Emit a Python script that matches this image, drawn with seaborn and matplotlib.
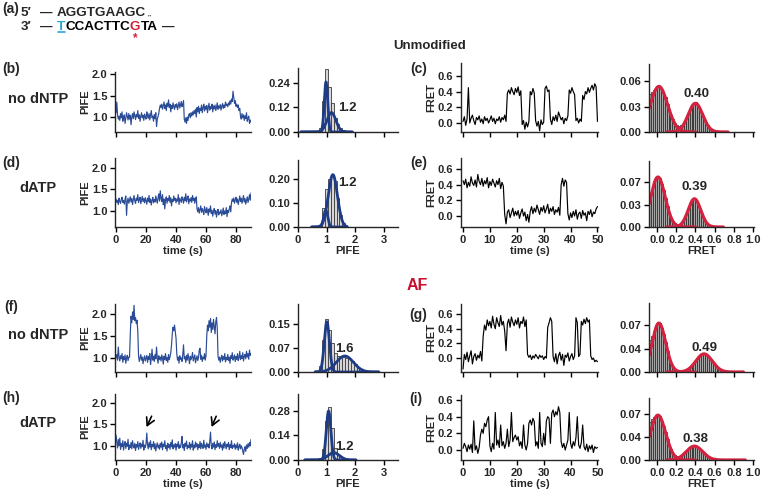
import numpy as np
import pandas as pd
import matplotlib
matplotlib.use("Agg")
import matplotlib.pyplot as plt
from matplotlib.lines import Line2D
import seaborn as sns

W, H = 763, 499

# frame time of the traces (s)
PIFE_DT = 0.5
FRET_DT = 0.5

# PIFE time traces (Cy3 intensity), one value per frame
pife_b = [1.10, 1.35, 1.05, 0.95, 1.02, 0.92, 1.08, 0.98, 1.12, 0.90, 1.00, 1.05, 0.85, 0.97, 1.10, 1.02, 0.93, 1.08, 0.95, 1.04,
          0.82, 1.00, 1.08, 0.96, 1.12, 1.03, 0.94, 1.06, 1.00, 1.15, 0.97, 1.05, 0.90, 1.02, 1.10, 0.98, 1.04, 0.92, 1.07, 1.00,
          0.95, 1.12, 1.03, 0.97, 1.08, 0.93, 1.05, 1.15, 0.98, 1.02, 0.90, 1.06, 0.96, 1.10, 0.78, 0.95, 1.02, 1.08, 1.20, 1.28,
          1.22, 1.30, 1.18, 1.26, 1.35, 1.20, 1.28, 1.15, 1.32, 1.25, 1.40, 1.22, 1.30, 1.12, 1.27, 1.20, 1.33, 1.24, 1.18, 1.29,
          1.23, 1.31, 1.17, 1.26, 1.35, 1.21, 1.28, 1.36, 1.24, 1.30, 1.38, 0.95, 0.88, 0.98, 0.85, 1.00, 0.92, 1.05, 1.08, 0.98,
          1.10, 1.02, 1.12, 1.05, 1.15, 1.08, 1.18, 1.00, 1.22, 1.12, 1.25, 1.08, 1.20, 1.15, 1.28, 1.10, 1.22, 1.30, 1.14, 1.25,
          1.18, 1.27, 1.10, 1.22, 1.32, 1.16, 1.24, 1.20, 1.30, 1.12, 1.26, 1.19, 1.28, 1.15, 1.23, 1.33, 1.18, 1.26, 1.21, 1.29,
          1.16, 1.25, 1.31, 1.20, 1.28, 1.22, 1.35, 1.27, 1.30, 1.24, 1.33, 1.28, 1.38, 1.30, 1.42, 1.36, 1.60, 1.45, 1.32, 1.38,
          1.25, 1.30, 1.22, 1.28, 1.15, 1.20, 1.02, 0.95, 1.08, 0.98, 1.05, 0.92, 1.03, 0.96, 1.10, 0.90, 0.97, 1.02, 0.85, 0.93,
          0.88]
pife_d = [1.28, 1.20, 1.25, 1.15, 1.30, 1.22, 1.18, 1.27, 1.32, 1.20, 1.24, 1.16, 1.28, 1.35, 0.90, 1.22, 1.30, 1.18, 1.26, 1.33,
          1.21, 1.29, 1.15, 1.27, 1.36, 1.23, 1.18, 1.30, 1.25, 1.38, 1.20, 1.27, 1.32, 1.17, 1.26, 1.34, 1.22, 1.29, 1.19, 1.31,
          1.24, 1.16, 1.30, 1.22, 1.36, 1.20, 1.28, 1.14, 1.25, 1.32, 1.19, 1.27, 1.21, 1.35, 1.26, 1.18, 1.30, 1.40, 1.23, 1.47,
          1.30, 1.22, 1.38, 1.15, 1.28, 1.05, 1.26, 1.33, 1.18, 1.29, 1.24, 1.36, 1.20, 1.31, 1.12, 1.27, 1.22, 1.35, 1.25, 1.30,
          1.19, 1.28, 1.23, 1.38, 1.15, 1.30, 1.25, 1.20, 1.33, 1.27, 1.18, 1.32, 1.24, 1.40, 1.21, 1.29, 1.35, 1.17, 1.28, 1.23,
          1.31, 1.20, 1.36, 1.25, 1.30, 1.18, 1.27, 1.33, 1.05, 0.98, 1.08, 0.95, 1.03, 1.12, 0.97, 1.06, 1.00, 0.92, 1.10, 1.02,
          0.96, 1.08, 1.00, 0.90, 1.05, 0.98, 1.12, 0.94, 1.02, 0.88, 0.99, 1.06, 0.93, 1.01, 0.86, 0.97, 1.04, 0.91, 0.98, 0.95,
          1.03, 0.89, 0.97, 1.07, 0.92, 1.00, 0.94, 1.08, 0.87, 1.02, 0.96, 1.05, 1.12, 0.98, 1.20, 1.28, 1.22, 1.30, 1.18, 1.26,
          1.32, 1.20, 1.28, 1.15, 1.25, 1.35, 1.22, 1.30, 1.18, 1.27, 1.36, 1.21, 1.29, 1.16, 1.24, 1.33, 1.20, 1.28, 1.38, 1.25,
          1.42]
pife_f = [1.00, 1.08, 0.95, 1.25, 1.02, 0.93, 1.05, 0.98, 1.10, 0.90, 1.03, 0.96, 1.07, 0.88, 1.00, 1.06, 0.94, 1.02, 1.02, 1.55,
          1.95, 1.80, 2.05, 1.88, 2.20, 1.85, 1.92, 1.78, 1.86, 1.60, 1.05, 0.92, 1.00, 1.08, 0.95, 1.02, 0.87, 0.98, 1.05, 0.93,
          1.00, 1.06, 0.90, 1.03, 0.97, 1.10, 0.85, 0.99, 1.20, 0.95, 1.04, 0.92, 1.08, 0.98, 1.25, 1.00, 0.88, 1.05, 0.96, 1.02,
          0.93, 1.07, 0.99, 0.86, 1.04, 0.97, 1.10, 0.94, 1.01, 0.90, 1.08, 0.96, 1.03, 1.12, 1.30, 1.55, 1.70, 1.62, 1.75, 1.60,
          1.45, 1.10, 0.95, 1.02, 0.88, 1.05, 0.97, 1.00, 0.92, 1.08, 1.30, 0.98, 1.03, 0.90, 1.06, 0.95, 1.10, 0.99, 0.87, 1.04,
          0.96, 1.02, 1.12, 0.93, 1.00, 1.07, 0.89, 0.98, 1.05, 0.94, 1.01, 1.18, 1.22, 0.97, 1.06, 0.92, 1.02, 0.98, 1.10, 0.95,
          1.05, 1.50, 1.75, 1.62, 1.85, 1.70, 1.90, 1.58, 1.80, 1.65, 1.88, 1.72, 1.55, 1.82, 1.92, 1.68, 1.05, 0.95, 1.02, 0.90,
          1.00, 1.06, 0.93, 1.03, 0.97, 1.10, 0.91, 1.01, 0.96, 1.08, 0.94, 1.02, 0.88, 1.05, 0.99, 1.12, 0.95, 1.00, 1.07, 0.92,
          1.03, 0.97, 1.10, 0.94, 1.01, 1.15, 0.96, 1.05, 0.99, 1.12, 0.93, 1.04, 1.08, 0.98, 1.15, 1.02, 1.10, 0.97, 1.18, 1.06,
          1.10]
pife_h = [1.25, 1.08, 0.95, 1.15, 1.00, 1.18, 0.92, 1.05, 0.98, 1.12, 0.90, 1.03, 1.10, 0.94, 1.06, 0.99, 1.15, 0.91, 1.02, 0.96,
          1.08, 0.93, 1.12, 1.00, 0.95, 1.06, 0.89, 1.03, 0.97, 1.10, 0.92, 1.01, 1.07, 0.94, 1.04, 0.98, 1.13, 0.90, 1.02, 0.96,
          1.05, 1.30, 1.02, 0.93, 1.08, 0.97, 1.12, 0.91, 1.03, 0.98, 1.10, 0.93, 1.05, 0.88, 1.00, 1.07, 0.95, 1.02, 0.92, 1.06,
          0.97, 1.09, 0.91, 1.04, 0.99, 1.12, 0.94, 1.01, 0.88, 1.06, 0.96, 1.03, 0.92, 1.08, 0.98, 1.14, 0.93, 1.02, 0.97, 1.05,
          0.90, 1.04, 0.98, 1.10, 0.94, 1.02, 0.96, 1.07, 1.22, 0.95, 1.03, 0.89, 1.06, 0.99, 1.11, 0.93, 1.01, 0.96, 1.08, 0.92,
          1.04, 0.97, 1.12, 0.90, 1.02, 0.95, 1.09, 0.98, 1.05, 0.91, 1.03, 0.96, 1.10, 0.93, 1.06, 0.99, 0.94, 1.13, 0.97, 1.02,
          0.92, 1.07, 0.98, 1.04, 0.95, 1.11, 1.32, 1.00, 0.93, 1.06, 0.97, 1.09, 0.91, 1.03, 0.96, 1.12, 0.99, 1.05, 0.94, 1.08,
          0.97, 1.02, 0.90, 1.06, 0.95, 1.10, 1.00, 0.93, 1.04, 0.98, 1.08, 0.91, 1.03, 0.96, 1.12, 0.94, 1.01, 0.97, 1.05, 0.92,
          1.02, 0.95, 1.07, 0.90, 0.98, 1.04, 0.93, 1.00, 0.96, 0.88, 0.80, 0.92, 0.98, 0.87, 1.02, 0.94, 1.05, 0.97, 1.08, 1.00,
          1.15]

# FRET time traces
fret_c = [0.02, 0.08, -0.03, 0.05, 0.45, 0.00, 0.06, 0.10, 0.03, -0.02, 0.07, 0.04, 0.09, 0.01, 0.05, -0.01, 0.08, 0.03, 0.06, 0.00,
          0.04, 0.09, 0.02, 0.06, -0.01, 0.05, 0.03, 0.08, 0.01, 0.07, 0.04, 0.10, 0.02, 0.38, 0.42, 0.37, 0.45, 0.40, 0.36, 0.44,
          0.39, 0.46, 0.35, 0.41, -0.02, 0.03, -0.08, 0.01, -0.05, 0.02, 0.40, 0.36, 0.44, 0.38, 0.03, -0.04, 0.02, -0.10, 0.04, -0.02,
          0.01, 0.44, 0.47, 0.40, 0.42, 0.05, -0.02, 0.08, 0.03, 0.10, 0.02, 0.14, 0.09, 0.04, 0.07, -0.01, 0.06, 0.03, 0.09, 0.42,
          0.38, 0.45, 0.40, 0.36, 0.03, 0.06, 0.00, 0.05, 0.02, 0.35, 0.30, 0.40, 0.37, 0.45, 0.39, 0.44, 0.48, 0.42, 0.50, 0.46,
          0.02]
fret_e = [0.45, 0.40, 0.47, 0.36, 0.43, 0.38, 0.50, 0.42, 0.39, 0.46, 0.37, 0.53, 0.44, 0.40, 0.48, 0.38, 0.45, 0.41, 0.49, 0.36,
          0.44, 0.39, 0.47, 0.42, 0.37, 0.45, 0.40, 0.48, 0.35, 0.43, 0.38, 0.02, -0.10, 0.05, 0.08, -0.02, 0.04, 0.10, 0.00, 0.06,
          0.01, 0.07, -0.03, 0.04, 0.09, 0.00, 0.05, -0.06, 0.02, -0.08, 0.06, 0.12, 0.03, 0.10, 0.05, 0.14, 0.08, 0.02, 0.11, 0.06,
          0.13, 0.04, 0.09, 0.15, 0.03, 0.10, 0.06, 0.12, 0.02, 0.08, 0.05, 0.11, 0.01, 0.40, 0.48, 0.38, 0.46, 0.43, 0.03, -0.05,
          0.04, -0.02, 0.06, 0.00, 0.08, -0.04, 0.03, 0.05, -0.03, 0.07, 0.01, 0.04, -0.06, 0.06, 0.02, 0.08, -0.01, 0.05, 0.03, 0.09,
          0.12]
fret_g = [-0.15, 0.05, -0.02, 0.08, -0.05, 0.03, 0.10, -0.08, 0.02, 0.06, -0.03, 0.04, 0.00, 0.09, -0.04, 0.30, 0.45, 0.38, 0.52, 0.44,
          0.50, 0.41, 0.57, 0.46, 0.40, 0.55, 0.48, 0.43, 0.58, 0.45, 0.50, 0.37, 0.10, 0.47, 0.53, 0.42, 0.56, 0.49, 0.44, 0.52,
          0.46, 0.55, 0.41, 0.50, 0.47, 0.56, 0.43, 0.52, 0.05, 0.01, 0.04, -0.02, 0.03, 0.00, 0.05, 0.02, -0.01, 0.04, 0.01, 0.03,
          -0.02, 0.02, 0.00, 0.42, 0.48, 0.55, 0.50, 0.02, -0.05, 0.06, -0.08, 0.03, 0.08, -0.03, 0.05, -0.10, 0.04, 0.01, 0.07, -0.04,
          0.02, 0.06, -0.02, 0.03, 0.55, 0.48, 0.02, 0.05, 0.50, 0.45, 0.53, 0.47, 0.55, 0.49, 0.52, 0.03, -0.02, 0.00, -0.05, -0.03,
          -0.05]
fret_i = [0.02, 0.08, 0.04, -0.02, 0.06, 0.01, 0.07, -0.03, 0.35, 0.00, 0.05, -0.04, 0.03, 0.18, 0.25, 0.20, 0.32, 0.28, 0.36, 0.40,
          0.05, -0.02, 0.08, 0.01, 0.45, 0.06, 0.12, 0.03, 0.30, 0.05, 0.10, 0.02, 0.08, 0.25, 0.04, 0.12, 0.45, 0.10, 0.15, 0.18,
          0.12, 0.16, 0.05, 0.10, 0.02, 0.30, 0.06, 0.00, 0.08, 0.32, 0.36, 0.30, 0.38, 0.34, 0.05, 0.10, 0.02, 0.45, 0.08, 0.04,
          0.20, 0.06, 0.35, 0.40, 0.38, 0.08, 0.44, 0.48, 0.40, 0.46, 0.42, 0.52, 0.45, 0.10, 0.03, 0.08, 0.00, 0.06, 0.12, 0.45,
          0.08, 0.02, 0.10, 0.05, 0.15, 0.40, 0.06, 0.02, 0.09, 0.30, 0.04, 0.00, 0.07, -0.02, 0.05, 0.01, 0.06, -0.03, 0.04, 0.02,
          0.03]

# PIFE histograms (bin centres, fraction per bin)
pife_centers = [0.8, 0.9, 1.0, 1.1, 1.2, 1.3, 1.4, 1.5, 1.6, 1.7, 1.8, 1.9, 2.0, 2.1, 2.2]
pife_hist_b = [0.02, 0.15, 0.31, 0.22, 0.14, 0.07, 0.04, 0.02, 0.01, 0, 0, 0, 0, 0, 0]
pife_hist_d = [0.01, 0.08, 0.16, 0.20, 0.215, 0.19, 0.12, 0.05, 0.015, 0, 0, 0, 0, 0, 0]
pife_hist_f = [0.02, 0.10, 0.165, 0.13, 0.09, 0.06, 0.05, 0.05, 0.048, 0.045, 0.04, 0.035, 0.025, 0.015, 0.008]
pife_hist_h = [0.01, 0.06, 0.22, 0.30, 0.18, 0.07, 0.035, 0.015, 0.005, 0, 0, 0, 0, 0, 0]

# FRET histograms
fret_centers = [-0.07, -0.05, -0.03, -0.01, 0.01, 0.03, 0.05, 0.07, 0.09, 0.11,
                0.13, 0.15, 0.17, 0.19, 0.21, 0.23, 0.25, 0.27, 0.29, 0.31,
                0.33, 0.35, 0.37, 0.39, 0.41, 0.43, 0.45, 0.47, 0.49, 0.51,
                0.53, 0.55, 0.57, 0.59, 0.61, 0.63, 0.65, 0.67, 0.69, 0.71, 0.73]
fret_hist_c = [0.045, 0.047, 0.050, 0.052, 0.055, 0.053, 0.050, 0.044, 0.041, 0.033,
               0.027, 0.020, 0.015, 0.011, 0.008, 0.007, 0.008, 0.010, 0.013, 0.018,
               0.023, 0.027, 0.031, 0.034, 0.035, 0.031, 0.027, 0.022, 0.017, 0.012,
               0.008, 0.005, 0.003, 0.002, 0.001, 0, 0, 0, 0, 0, 0]
fret_hist_e = [0.050, 0.058, 0.068, 0.074, 0.079, 0.076, 0.067, 0.058, 0.045, 0.033,
               0.023, 0.014, 0.009, 0.006, 0.004, 0.004, 0.005, 0.009, 0.014, 0.021,
               0.029, 0.036, 0.042, 0.045, 0.042, 0.036, 0.028, 0.021, 0.014, 0.008,
               0.004, 0.002, 0.001, 0, 0, 0, 0, 0, 0, 0, 0]
fret_hist_g = [0.048, 0.054, 0.061, 0.067, 0.072, 0.073, 0.066, 0.057, 0.045, 0.032,
               0.021, 0.013, 0.008, 0.005, 0.003, 0.002, 0.002, 0.002, 0.002, 0.003,
               0.005, 0.007, 0.010, 0.014, 0.017, 0.021, 0.024, 0.026, 0.028, 0.026,
               0.024, 0.021, 0.017, 0.013, 0.010, 0.007, 0.005, 0.003, 0.002, 0.001, 0]
fret_hist_i = [0.058, 0.062, 0.065, 0.066, 0.068, 0.066, 0.059, 0.051, 0.042, 0.032,
               0.023, 0.016, 0.011, 0.008, 0.006, 0.006, 0.007, 0.009, 0.011, 0.014,
               0.017, 0.019, 0.021, 0.022, 0.021, 0.019, 0.017, 0.014, 0.011, 0.008,
               0.006, 0.004, 0.003, 0.002, 0.001, 0, 0, 0, 0, 0, 0]

# gaussian fits (amplitude, centre, sigma)
pife_fit_b = [(0.245, 0.98, 0.06), (0.095, 1.17, 0.155)]
pife_fit_d = [(0.07, 0.97, 0.07), (0.218, 1.22, 0.16)]
pife_fit_f = [(0.157, 1.01, 0.09), (0.05, 1.64, 0.30)]
pife_fit_h = [(0.28, 1.07, 0.08), (0.042, 1.25, 0.20)]
fret_fit_c = [(0.054, 0.02, 0.09), (0.034, 0.40, 0.075)]
fret_fit_e = [(0.078, 0.01, 0.075), (0.044, 0.39, 0.065)]
fret_fit_g = [(0.073, 0.02, 0.07), (0.027, 0.49, 0.085)]
fret_fit_i = [(0.068, 0.01, 0.08), (0.021, 0.39, 0.085)]

pife_peaks = ["1.2", "1.2", "1.6", "1.2"]
fret_peaks = ["0.40", "0.39", "0.49", "0.38"]

BLUE = "#2b4c96"
BLUE_FIT = "#1d3b87"
RED = "#d3223f"

sns.set_theme(style="ticks")
plt.rcParams["font.family"] = ["Liberation Sans", "DejaVu Sans"]
plt.rcParams["font.weight"] = "bold"
plt.rcParams["axes.labelweight"] = "bold"
plt.rcParams["axes.linewidth"] = 1.0

fig = plt.figure(figsize=(W / 100, H / 100), dpi=100)


def add_ax(left, top, right, bottom):
    return fig.add_axes([left / W, 1 - bottom / H, (right - left) / W, (bottom - top) / H])


def ftext(x, y, s, **kw):
    kw.setdefault("ha", "center")
    kw.setdefault("va", "center")
    return fig.text(x / W, 1 - y / H, s, **kw)


def style(ax):
    sns.despine(ax=ax)
    ax.tick_params(axis="both", length=3.5, width=1.0, pad=2, labelsize=8, color="black")
    ax.set_xlabel("")
    ax.set_ylabel("")


def draw_hist(ax, centers, heights, width, face, edge, lw):
    c = [float(v) for v in centers]
    edges = [v - width / 2 for v in c] + [c[-1] + width / 2]
    df = pd.DataFrame({"x": c, "w": [float(v) for v in heights]})
    try:
        sns.histplot(data=df, x="x", weights="w", bins=edges, color=face, edgecolor=edge,
                     linewidth=lw, alpha=1, ax=ax)
    except ValueError:
        sns.barplot(data=df, x="x", y="w", native_scale=True, width=1.0, color=face,
                    edgecolor=edge, linewidth=lw, saturation=1, ax=ax)


def draw_fits(ax, params, ranges, color, lw):
    for (a, m, s), (lo, hi) in zip(params, ranges):
        xs = np.linspace(lo, hi, 400)
        sns.lineplot(x=xs, y=a * np.exp(-(xs - m) ** 2 / (2 * s * s)), color=color,
                     linewidth=lw, ax=ax)


cols = [(115, 251), (298, 398), (461, 598), (649, 754)]
rows = [
    dict(bottom=132, tops=(72, 68, 63, 64), pife=pife_b, fret=fret_c,
         ph=pife_hist_b, fh=fret_hist_c, pf=pife_fit_b, ff=fret_fit_c,
         pyl=(0.65, 2.05), phl=0.313, fyl=(-0.115, 0.764), fhl=0.0806,
         pht=([0, 0.12, 0.24], ["0.00", "0.12", "0.24"]),
         fht=([0, 0.03, 0.06], ["0.00", "0.03", "0.06"]),
         prange=(0.1, 1.9), frange=0.74, labels=False,
         plab=(347, 108), flab=(696, 94)),
    dict(bottom=227, tops=(158, 160, 158, 161), pife=pife_d, fret=fret_e,
         ph=pife_hist_d, fh=fret_hist_e, pf=pife_fit_d, ff=fret_fit_e,
         pyl=(0.63, 2.23), phl=0.279, fyl=(-0.14, 0.74), fhl=0.103,
         pht=([0, 0.10, 0.20], ["0.00", "0.10", "0.20"]),
         fht=([0, 0.035, 0.07], ["0.00", "0.03", "0.07"]),
         prange=(0.48, 1.72), frange=0.69, labels=True,
         plab=(347, 183), flab=(695, 187)),
    dict(bottom=372, tops=(304, 304, 304, 303), pife=pife_f, fret=fret_g,
         ph=pife_hist_f, fh=fret_hist_g, pf=pife_fit_f, ff=fret_fit_g,
         pyl=(0.68, 2.23), phl=0.2125, fyl=(-0.19, 0.737), fhl=0.103,
         pht=([0, 0.075, 0.15], ["0.00", "0.07", "0.15"]),
         fht=([0, 0.035, 0.07], ["0.00", "0.04", "0.07"]),
         prange=(0.6, 2.83), frange=0.9, labels=False,
         plab=(344, 349), flab=(704, 348)),
    dict(bottom=460, tops=(394, 394, 395, 398), pife=pife_h, fret=fret_i,
         ph=pife_hist_h, fh=fret_hist_i, pf=pife_fit_h, ff=fret_fit_i,
         pyl=(0.67, 2.21), phl=0.377, fyl=(-0.12, 0.66), fhl=0.094,
         pht=([0, 0.14, 0.28], ["0.00", "0.14", "0.28"]),
         fht=([0, 0.035, 0.07], ["0.00", "0.04", "0.07"]),
         prange=(0.24, 2.03), frange=0.92, labels=True,
         plab=(344, 447), flab=(695, 439)),
]

pife_axes = []
for k, r in enumerate(rows):
    b = r["bottom"]
    # PIFE trace
    ax = add_ax(cols[0][0], r["tops"][0], cols[0][1], b)
    t = np.arange(len(r["pife"])) * PIFE_DT
    sns.lineplot(x=t, y=r["pife"], color=BLUE, linewidth=0.85, ax=ax)
    style(ax)
    ax.set_xlim(-0.7, 90)
    ax.set_ylim(*r["pyl"])
    ax.set_xticks([0, 20, 40, 60, 80])
    ax.set_yticks([1.0, 1.5, 2.0])
    ax.set_yticklabels(["1.0", "1.5", "2.0"])
    ax.set_ylabel("PIFE", fontsize=8, labelpad=1)
    if r["labels"]:
        ax.set_xlabel("time (s)", fontsize=8, labelpad=1)
    else:
        ax.tick_params(labelbottom=False)
    pife_axes.append(ax)

    # PIFE histogram
    ax = add_ax(cols[1][0], r["tops"][1], cols[1][1], b)
    draw_hist(ax, pife_centers, r["ph"], 0.1, "#d6d6d6", "#3a3a3a", 0.6)
    draw_fits(ax, r["pf"], [r["prange"], r["prange"]], BLUE_FIT, 2.0)
    style(ax)
    ax.set_xlim(0, 3.5)
    ax.set_ylim(0, r["phl"])
    ax.set_xticks([0, 1, 2, 3])
    ax.set_xticklabels(["0", "1", "2", "3"])
    ax.set_yticks(r["pht"][0])
    ax.set_yticklabels(r["pht"][1])
    if r["labels"]:
        ax.set_xlabel("PIFE", fontsize=8, labelpad=1)
    else:
        ax.tick_params(labelbottom=False)
    ftext(*r["plab"], pife_peaks[k], fontsize=9.5, fontweight="bold")

    # FRET trace
    ax = add_ax(cols[2][0], r["tops"][2], cols[2][1], b)
    t = np.arange(len(r["fret"])) * FRET_DT
    sns.lineplot(x=t, y=r["fret"], color="black", linewidth=0.85, ax=ax)
    style(ax)
    ax.set_xlim(-0.75, 50.2)
    ax.set_ylim(*r["fyl"])
    ax.set_xticks([0, 10, 20, 30, 40, 50])
    ax.set_yticks([0, 0.2, 0.4, 0.6])
    ax.set_yticklabels(["0.0", "0.2", "0.4", "0.6"])
    ax.set_ylabel("FRET", fontsize=8, labelpad=1)
    if r["labels"]:
        ax.set_xlabel("time (s)", fontsize=8, labelpad=1)
    else:
        ax.tick_params(labelbottom=False)

    # FRET histogram
    ax = add_ax(cols[3][0], r["tops"][3], cols[3][1], b)
    draw_hist(ax, fret_centers, r["fh"], 0.02, "#a8a8a8", "#202020", 0.5)
    draw_fits(ax, r["ff"], [(-0.083, 0.4), (0.1, r["frange"])], RED, 2.3)
    style(ax)
    ax.set_xlim(-0.083, 1.01)
    ax.set_ylim(0, r["fhl"])
    ax.set_xticks([0, 0.2, 0.4, 0.6, 0.8, 1.0])
    ax.set_xticklabels(["0.0", "0.2", "0.4", "0.6", "0.8", "1.0"])
    ax.set_yticks(r["fht"][0])
    ax.set_yticklabels(r["fht"][1])
    if r["labels"]:
        ax.set_xlabel("FRET", fontsize=8, labelpad=1)
    else:
        ax.tick_params(labelbottom=False)
    ftext(*r["flab"], fret_peaks[k], fontsize=9.5, fontweight="bold")

# arrows marking short PIFE bursts in (h)
for x0, x1 in [(24.5, 19.5), (67.5, 63)]:
    pife_axes[3].annotate("", xy=(x1, 1.38), xytext=(x0, 1.75),
                          arrowprops=dict(arrowstyle="->,head_length=0.45,head_width=0.25",
                                          color="black", lw=1.2))

# panel and row labels
for x, y, s in [(11, 69, "(b)"), (11, 163, "(d)"), (11, 307, "(f)"), (11, 398, "(h)"),
                (419, 69, "(c)"), (419, 163, "(e)"), (418, 315, "(g)"), (416, 399, "(i)")]:
    ftext(x, y, s, fontsize=10, fontweight="bold")
for x, y, s in [(38, 99, "no dNTP"), (38, 188, "dATP"), (38, 335, "no dNTP"), (38, 423, "dATP")]:
    ftext(x, y, s, fontsize=10.5, fontweight="bold")
ftext(430, 46, "Unmodified", fontsize=9.5, fontweight="bold")
ftext(417, 285, "AF", fontsize=11.5, fontweight="bold", color="#c8102e")

# (a) sequence
renderer = fig.canvas.get_renderer()
seq_kw = dict(fontsize=9.7, fontweight="bold", ha="left", va="center")
ftext(2, 9, "(a)", fontsize=10, fontweight="bold", ha="left")
ftext(21, 13, "5\u2032", **seq_kw)
ftext(46, 13, "\u2014", fontsize=9, fontweight="bold")
top_seq = ftext(57, 13, "AGGTGAAGC", **seq_kw)
top_bb = top_seq.get_window_extent(renderer)
fig.text((top_bb.x1 + 1.5) / W, (top_bb.y0 - 1) / H, "\u2033", fontsize=4.5,
         fontweight="bold", ha="left", va="bottom")
ftext(21, 27, "3\u2032", **seq_kw)
ftext(46, 27, "\u2014", fontsize=9, fontweight="bold")

x = 57
t_box = g_box = None
for s, c in [("T", "#2aa7d6"), ("CCACTTC", "black"), ("G", "#d0203a"), ("TA", "black")]:
    txt = ftext(x, 27, s, color=c, **seq_kw)
    bb = txt.get_window_extent(renderer)
    if s == "T":
        t_box = bb
    if s == "G":
        g_box = bb
    x += bb.width
ftext(x + 11, 27, "\u2014", fontsize=9, fontweight="bold")
fig.add_artist(Line2D([(t_box.x0 + 0.5) / W, (t_box.x1 - 0.5) / W], [(t_box.y0 + 1) / H] * 2,
                      transform=fig.transFigure, color="#2aa7d6", lw=1.2))
ftext((g_box.x0 + g_box.x1) / 2, 38, "*", fontsize=8.5, fontweight="bold", color="#d0203a")

fig.savefig("out.png", dpi=100)
